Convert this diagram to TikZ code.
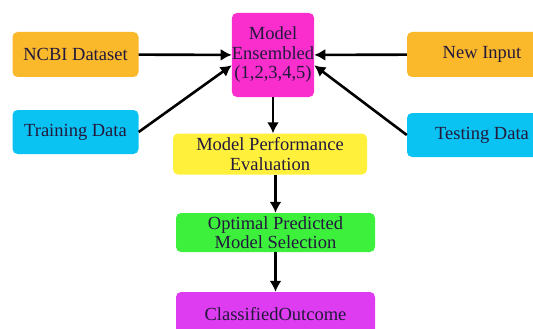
\documentclass[tikz,border=0pt]{standalone}
\usepackage{fontspec}
\setmainfont{Liberation Serif}
\usetikzlibrary{arrows.meta}
\definecolor{boxorange}{RGB}{250,185,42}
\definecolor{boxcyan}{RGB}{10,195,242}
\definecolor{boxmagenta}{RGB}{250,45,205}
\definecolor{boxyellow}{RGB}{255,240,60}
\definecolor{boxgreen}{RGB}{60,240,60}
\definecolor{boxpurple}{RGB}{222,60,240}
\definecolor{txtcol}{RGB}{35,25,60}
\begin{document}
\begin{tikzpicture}[x=1pt, y=-1pt,
    box/.style={rounded corners=5pt, inner sep=0pt, align=center, text=txtcol,
        font=\fontsize{18.5}{19.5}\selectfont},
    link/.style={-{Latex[length=11pt, width=12pt]}, line width=2.6pt}]
        \clip (0,0) rectangle (533,329);

        % Nodes
        \node[box, fill=boxorange, minimum width=126pt, minimum height=45pt] (ncbi) at (75.5,54.5) {NCBI Dataset};
        \node[box, fill=boxcyan, minimum width=126pt, minimum height=44pt] (train) at (75.5,132) {Training Data};
        \node[box, fill=boxmagenta, minimum width=82pt, minimum height=84pt] (model) at (273,55) {Model\\Ensembled\\(1,2,3,4,5)};
        \node[box, fill=boxorange, minimum width=150pt, minimum height=45pt] (newin) at (482,54.5) {New Input};
        \node[box, fill=boxcyan, minimum width=150pt, minimum height=44pt] (test) at (482,135) {Testing Data};
        \node[box, fill=boxyellow, minimum width=194pt, minimum height=41pt] (eval) at (270,154) {Model Performance\\Evaluation};
        \node[box, fill=boxgreen, minimum width=199pt, minimum height=39pt] (opt) at (275.5,232.5) {Optimal Predicted\\Model Selection};
        \node[box, fill=boxpurple, minimum width=199pt, minimum height=44pt] (outc) at (275.5,314) {ClassifiedOutcome};

        % Edges
        \draw[link] (ncbi) -- (model);
        \draw[link] (train.east) -- (model.194);
        \draw[link] (newin) -- (model);
        \draw[link] (test.west) -- (model.346);
        \draw[link] (model) -- (model |- eval.north);
        \draw[link] (opt |- eval.south) -- (opt);
        \draw[link] (opt) -- (outc);
    \end{tikzpicture}
\end{document}
